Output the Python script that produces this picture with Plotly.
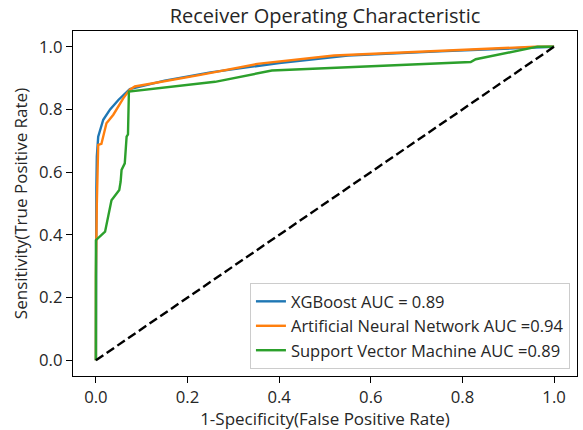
import plotly.graph_objects as go

# XGBoost
xgb_fpr = [0.0, 0.0, 0.001, 0.002, 0.005, 0.016, 0.031, 0.049, 0.074, 0.15, 0.25, 0.40, 0.55, 0.75, 0.90, 1.0]
xgb_tpr = [0.0, 0.30, 0.55, 0.65, 0.713, 0.767, 0.800, 0.830, 0.865, 0.892, 0.918, 0.948, 0.972, 0.985, 0.993, 1.0]
# Artificial Neural Network
ann_fpr = [0.0, 0.0, 0.002, 0.003, 0.005, 0.012, 0.023, 0.038, 0.060, 0.074, 0.085, 0.228, 0.352, 0.52, 0.74, 0.96, 1.0]
ann_tpr = [0.0, 0.27, 0.50, 0.628, 0.687, 0.690, 0.756, 0.783, 0.836, 0.863, 0.873, 0.910, 0.945, 0.972, 0.986, 1.0, 1.0]
# Support Vector Machine
svm_fpr = [0.0, 0.0, 0.020, 0.034, 0.051, 0.054, 0.056, 0.063, 0.067, 0.070, 0.072, 0.26, 0.384, 0.818, 0.829, 0.964, 1.0]
svm_tpr = [0.0, 0.383, 0.410, 0.510, 0.543, 0.570, 0.607, 0.628, 0.713, 0.720, 0.857, 0.888, 0.924, 0.951, 0.960, 1.0, 1.0]

names = ["XGBoost AUC = 0.89", "Artificial Neural Network AUC =0.94", "Support Vector Machine AUC =0.89"]
colors = ["#1f77b4", "#ff7f0e", "#2ca02c"]

diag = [0.0, 1.0]
x_ticks = [0.0, 0.2, 0.4, 0.6, 0.8, 1.0]
y_ticks = [0.0, 0.2, 0.4, 0.6, 0.8, 1.0]

fig = go.Figure()
for fx, ty, nm, c in zip([xgb_fpr, ann_fpr, svm_fpr], [xgb_tpr, ann_tpr, svm_tpr], names, colors):
    fig.add_trace(go.Scatter(x=fx, y=ty, mode="lines", name=nm, line=dict(color=c, width=2.4)))
fig.add_trace(go.Scatter(x=diag, y=diag, mode="lines", showlegend=False,
                         line=dict(color="black", width=2.4, dash="9px,4px")))

font = "Open Sans"
tc = "#262626"
axis_common = dict(showline=True, linecolor="black", linewidth=1.3, mirror=True,
                   ticks="outside", ticklen=6, tickwidth=1.3, tickcolor="black", showgrid=False,
                   zeroline=False, tickfont=dict(family=font, size=16.7, color=tc),
                   tickformat=".1f")
fig.update_layout(
    width=583, height=430,
    margin=dict(l=73, r=6, t=31, b=54),
    paper_bgcolor="white", plot_bgcolor="white",
    title=dict(text="Receiver Operating Characteristic", x=0.5, xref="paper",
               y=0.962, yanchor="middle", font=dict(family=font, size=20, color=tc)),
    xaxis=dict(range=[-0.05, 1.05], tickvals=x_ticks,
               title=dict(text="1-Specificity(False Positive Rate)", font=dict(family=font, size=17, color=tc), standoff=2),
               **axis_common),
    yaxis=dict(range=[-0.05, 1.05], tickvals=y_ticks,
               title=dict(text="Sensitivity(True Positive Rate)", font=dict(family=font, size=17, color=tc), standoff=7),
               **axis_common),
    legend=dict(x=0.986, y=0.02, xanchor="right", yanchor="bottom",
                bgcolor="rgba(255,255,255,0.8)", bordercolor="#cccccc", borderwidth=1,
                font=dict(family=font, size=16.5, color=tc)),
    showlegend=True,
)
fig.write_html("out.html")
